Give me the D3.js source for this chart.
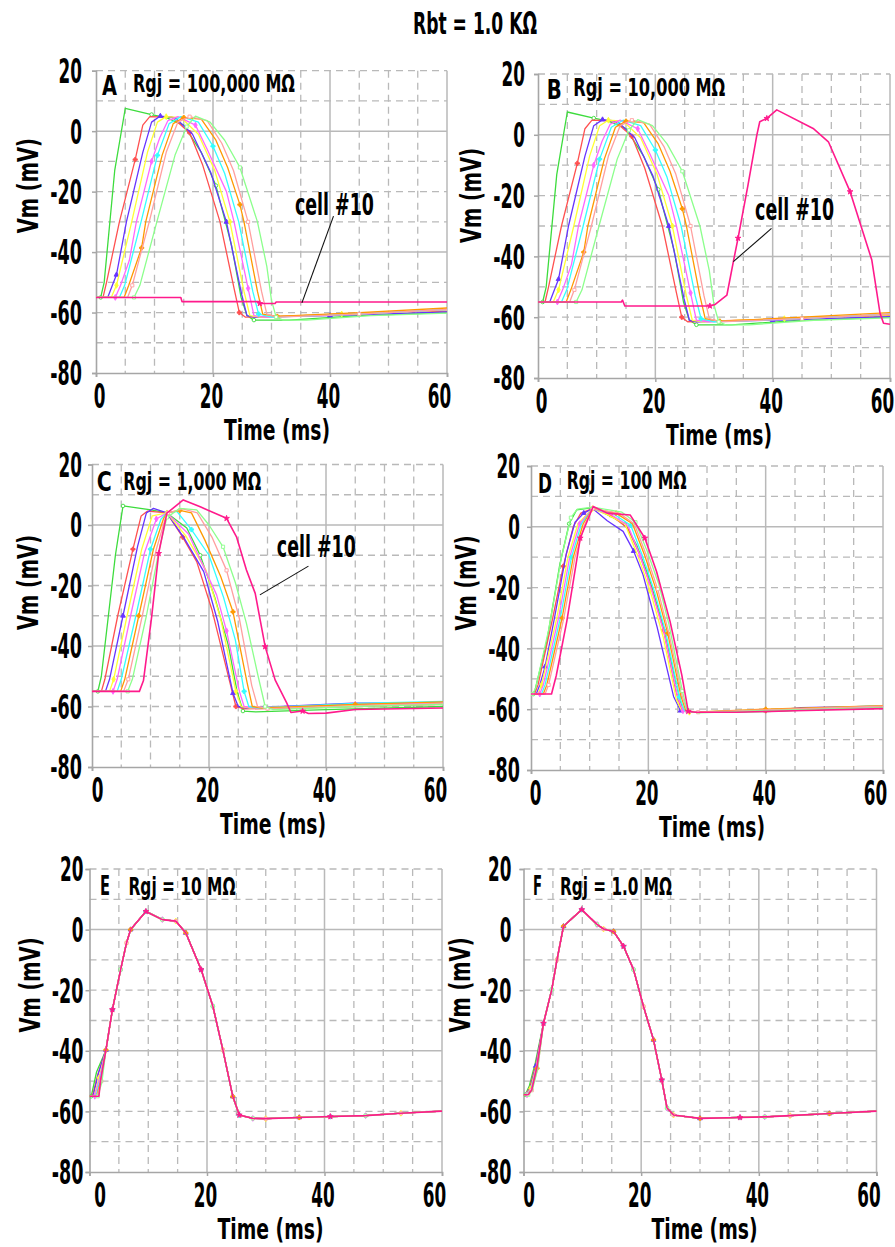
<!DOCTYPE html>
<html><head><meta charset="utf-8">
<script src="https://cdn.jsdelivr.net/npm/d3@7"></script>
<style>body{margin:0;background:#fff}svg{display:block}</style>
</head><body><svg id="chart" width="895" height="1247"></svg>
<script>
// ---------------- DATA ----------------
const chartTitle = "Rbt = 1.0 K\u03A9";
const panelLetters = ["A","B","C","D","E","F"];
const rgjLabels = ["Rgj = 100,000 M\u03A9","Rgj = 10,000 M\u03A9","Rgj = 1,000 M\u03A9","Rgj = 100 M\u03A9","Rgj = 10 M\u03A9","Rgj = 1.0 M\u03A9"];
const xTicks = [0,20,40,60];
const yTicks = [20,0,-20,-40,-60,-80];
const xLabel = "Time (ms)";
const yLabel = "Vm (mV)";
const cellNames = ["cell #1","cell #2","cell #3","cell #4","cell #5","cell #6","cell #7","cell #8","cell #9","cell #10"];

// Panel A, cells 1-9 (t ms, Vm mV)
const A_cells = [
 [[0,-55],[0.8,-55],[1.4,-50],[3.2,-13],[5,7.5],[9.5,5.5],[12,4.5],[15,2],[18,-7],[20.5,-18],[23.2,-38],[24.8,-55],[25.8,-61],[27,-62.5],[33,-62.5],[45,-61],[60,-60]],
 [[0,-55],[1.2,-55],[1.8,-50],[4,-30],[6.7,-9.4],[8,2],[9.2,4.8],[13,4.6],[16,-0.5],[18.2,-11],[21.2,-30],[23.6,-52],[24.5,-60],[25.5,-61.5],[35,-61],[48,-60],[60,-59.5]],
 [[0,-55],[2,-55],[2.8,-51],[3.5,-47.5],[5.2,-30],[8,-7],[9.5,3],[11,5],[13.5,4.5],[16.5,-1],[19.6,-13.6],[22.3,-30],[24.9,-54],[25.8,-61],[27,-61.5],[40,-61],[60,-59.8]],
 [[0,-55],[2.6,-55],[3.5,-51],[6.1,-30],[8.8,-7],[10.5,3],[12,4.8],[14.5,4.5],[17.5,-1],[20.3,-13],[22.9,-30],[25.3,-53],[26.3,-61],[28,-61.5],[42,-60.5],[60,-59.2]],
 [[0,-55],[3.3,-55],[4.2,-51],[5.7,-42.7],[6.9,-30],[9.5,-10],[10.9,-2.2],[12.3,3.5],[14,4.8],[17,2],[19,-6],[22.3,-20],[23.6,-30],[26,-52],[27,-61],[29,-61.5],[45,-60.5],[60,-59]],
 [[0,-55],[4,-55],[4.9,-51],[7.7,-30],[10.5,-8],[12.5,2.5],[14.5,4.8],[17.5,3],[20,-5],[22,-14],[24.4,-30],[26.8,-53],[27.8,-60.5],[30,-61.5],[45,-60.5],[60,-59]],
 [[0,-55],[4.8,-55],[5.6,-51],[7.8,-38.6],[8.5,-30],[11.3,-8],[13.2,2.5],[15,4.5],[18,4],[20.5,-3],[22.5,-12],[24.6,-24.3],[25.3,-30],[27.6,-53],[28.5,-60.5],[31,-61.3],[45,-60],[60,-58.5]],
 [[0,-55],[5.4,-55],[6.2,-51],[9.1,-30],[12,-7],[14,3],[16,4.8],[19,3.5],[21.5,-4],[23.5,-13],[26,-30],[28.3,-53],[29.2,-60.5],[31,-61.5],[45,-60.5],[60,-59]],
 [[0,-55],[6.5,-55],[7.5,-51],[10.4,-30],[13.5,-8],[15.5,1.5],[17,5],[19.5,3],[22,-3],[24.6,-12],[27.6,-30],[29.2,-44.7],[30,-56],[30.8,-61.5],[32,-62.5],[36,-62.5],[47,-61],[60,-60.2]]
];
const A_cell10 = [[0,-55],[14.5,-55],[14.7,-56.4],[27.8,-56.4],[28,-57],[30.6,-57],[30.8,-56.5],[60,-56.5]];

// Panel B: cells 1-9 read the same as panel A
const B_cells = A_cells;
const B_cell10 = [[0,-55],[14.2,-55],[14.4,-54.4],[14.8,-56.3],[29.3,-56.3],[30.2,-55.8],[32.2,-52.7],[33.3,-41.7],[34.1,-34],[35.8,-16.5],[37.3,-0.1],[37.8,4.3],[39,5.4],[40.7,8.2],[46.9,2.1],[49.5,-2.3],[53.2,-18.7],[56.9,-41.2],[58.3,-58.7],[58.9,-62],[60,-62.3]];

// Panel C
const C_cells = [
 [[0,-55],[1,-55],[1.6,-50],[2.8,-30],[4,-10],[5.3,6.3],[10.1,5],[12.8,4],[16.2,-1],[18.5,-10],[21,-24],[23.3,-39.7],[24.8,-55],[25.8,-61.5],[28,-61.8],[40,-61],[60,-60]],
 [[0,-55],[1.6,-55],[2.2,-51],[4.4,-30],[7,-8],[8.4,3],[9.5,4.6],[12.8,4],[15.5,-4],[17.9,-12.1],[20.5,-28],[23.6,-52.3],[24.6,-60],[26,-60.8],[40,-60.3],[60,-59.3]],
 [[0,-55],[2.3,-55],[3,-51],[5.3,-30],[7.8,-7],[9.3,4],[10.5,5.5],[12.8,4],[15.8,-4.5],[19.1,-15.4],[21.5,-32],[24.1,-55.6],[25,-60],[26.5,-60.5],[44.6,-58.9],[60,-58.8]],
 [[0,-55],[3,-55],[3.7,-51],[6,-30],[8.5,-8],[10.3,3],[12.8,4],[16,-3.5],[19.5,-15],[22,-31],[24.6,-55],[25.5,-60],[27,-60.5],[45,-59.5],[60,-58.8]],
 [[0,-55],[3.6,-55],[4.3,-51],[6.6,-30],[9,-9],[11,2],[12.8,4],[16.5,-3],[21.3,-23.1],[23,-35],[25.2,-55],[26,-60],[28,-60.5],[45,-59.3],[60,-58.8]],
 [[0,-55],[4.3,-55],[5,-51],[7.5,-30],[10,-8],[11.8,2],[12.8,4],[14.5,4.5],[17,-1.5],[20,-10],[22.5,-24],[24.5,-38],[26,-55],[26.8,-60],[28.5,-60.5],[45,-59],[60,-58.3]],
 [[0,-55],[4.9,-55],[5.6,-51],[8,-30],[10.5,-8],[12.2,2],[12.8,4],[15,4.8],[17,4],[19.3,-5],[22,-17],[24.1,-28.7],[26.5,-52],[27.4,-60],[29,-60.5],[45,-59.3],[60,-58.5]],
 [[0,-55],[5.4,-55],[6.2,-51],[8.6,-30],[11,-8],[12.5,2],[13,4],[15.5,5.3],[18,4],[20.5,-4],[23,-15],[25.2,-31],[27.3,-53],[28.3,-60],[30,-60.7],[45,-59.8],[60,-59]],
 [[0,-55],[6.1,-55],[6.9,-51],[9.3,-30],[11.5,-8],[12.8,2.5],[15,5.5],[17.9,5],[20,0],[22.4,-7.2],[24.5,-19],[26.4,-32.5],[28.4,-50],[29.6,-60],[31,-61],[45,-60],[60,-59.3]]
];
const C_cell10 = [[0,-55],[8.1,-55],[8.8,-51.4],[10.2,-30.3],[11.4,-9.4],[12.8,3.9],[15.6,8.3],[18.5,6],[23,2.2],[24.7,-3.9],[26.4,-14.9],[27.9,-22.6],[29.6,-40.2],[31.3,-51.2],[33.3,-58.9],[34,-62],[36,-61.5],[37,-62.3],[40,-62.2],[45,-61],[60,-60.5]];

// Panel D
const D_cells = [
 [[0,-55],[0.4,-55],[0.7,-53.6],[2.7,-37.7],[4.9,-12.5],[6.5,1],[7.8,5.6],[10.5,6.3],[13,4],[16,1],[18,-6],[20,-16],[22.3,-31],[24.8,-52],[25.8,-60],[27,-61],[40,-60.8],[60,-59.3]],
 [[0,-55],[0.6,-55],[1.2,-52],[3.7,-30],[5.5,-13],[7.2,0],[8.5,4.5],[10.5,6],[13.5,4],[16.5,-0.5],[18.5,-9],[20.5,-20],[22.6,-34],[24.7,-54],[25.6,-60],[27,-61],[40,-60.5],[60,-59.2]],
 [[0,-55],[0.9,-55],[1.5,-52],[2.4,-46],[4,-30],[6,-9],[7.5,1.5],[9,4.5],[10.5,6],[13,2],[15.7,-1.5],[17.5,-8],[19.1,-15.8],[21.5,-33],[24.3,-55.8],[25.5,-60.5],[27,-61],[40,-60.6],[46,-59.5],[60,-59]],
 [[0,-55],[1.2,-55],[1.8,-52],[4.4,-30],[6.3,-10],[8,1],[10.5,6],[13,4],[16,1],[18.3,-10],[20.3,-21],[22.5,-36],[24.8,-57],[25.7,-60.5],[27,-61],[40,-60.3],[60,-59]],
 [[0,-55],[1.5,-55],[2.1,-52],[4.7,-30],[6.6,-10],[8.3,1],[10.5,6],[13.5,4.2],[16.5,0.5],[18.6,-9.5],[20.6,-21],[22.7,-35],[25,-56],[25.9,-60.5],[27.5,-61],[40,-60.4],[60,-59.2]],
 [[0,-55],[1.8,-55],[2.4,-52],[5,-30],[6.9,-10],[8.6,1],[10.5,6],[14,4.3],[17,0.5],[19,-9.5],[21,-21],[23,-35],[25.3,-56],[26.2,-60.5],[28,-61],[40,-60.2],[60,-58.8]],
 [[0,-55],[2.1,-55],[2.7,-52],[5.3,-30],[7.2,-10],[8.9,1],[10.5,6],[14.5,4.5],[17.3,1],[19.3,-9],[21.3,-20.5],[23.3,-35],[25.6,-56],[26.4,-60.5],[28,-61],[40,-60],[60,-58.8]],
 [[0,-55],[2.4,-55],[3,-52],[5.6,-30],[7.5,-10],[9.2,1],[10.5,6],[15,4.5],[17.6,1],[19.6,-9],[21.6,-20.5],[23.5,-35],[25.8,-56],[26.6,-60.5],[28.5,-61],[40,-60.2],[60,-59]],
 [[0,-55],[0.3,-55],[0.8,-53],[3,-34],[5.2,-10],[6.8,3],[7.9,5.8],[10.5,6.5],[15.5,4.8],[17.8,1.5],[19.8,-8],[21.8,-19],[23.5,-32],[25.8,-54],[26.6,-60.5],[28.5,-61.2],[40,-60.5],[60,-59.5]]
];
const D_cell10 = [[0,-55],[3.5,-55],[4.3,-49],[6.1,-31.1],[8.4,-3.7],[10.6,6.7],[13,4.5],[16.9,3.9],[19.4,-3.7],[21.4,-14.7],[23.7,-31.1],[25.7,-48.7],[26.8,-60.7],[28,-61],[35,-61],[45,-60.5],[60,-59.8]];

// Panel E: cells differ only in the foot of the upstroke
const E_heads = [
 [[0,-55],[0.3,-55],[1.2,-47]],
 [[0,-55],[0.5,-55],[1.4,-48]],
 [[0,-55],[0.6,-55],[1.5,-47.5]],
 [[0,-55],[0.8,-55],[1.6,-49]],
 [[0,-55],[0.9,-55],[1.7,-49]],
 [[0,-55],[1.1,-55],[1.8,-49.5]],
 [[0,-55],[1.2,-55],[1.9,-50]],
 [[0,-55],[1.3,-55],[2.0,-50]],
 [[0,-55],[1.4,-55],[2.1,-50.5]],
 [[0,-55],[1.6,-55],[1.9,-49.6]]
];
const E_tail = [[2.8,-39.7],[3.9,-26.4],[5.3,-13.2],[6.3,-4.4],[7,0],[9.6,6],[12.4,3.3],[14.7,2.8],[16.4,-1.1],[19,-13.2],[21,-25.3],[22.7,-39.7],[24.4,-55.1],[25.5,-61.2],[27.8,-62.3],[30,-62.4],[35.7,-62],[41,-61.7],[47,-61.4],[53,-60.6],[60,-59.9]];

// Panel F
const F_heads = [
 [[0,-54.5],[0.3,-54.5],[1.0,-51.5],[2.0,-44]],
 [[0,-54.5],[0.4,-54.5],[1.1,-52],[2.1,-44.5]],
 [[0,-54.5],[0.5,-54.5],[1.2,-52],[2.1,-45]],
 [[0,-54.5],[0.5,-54.5],[1.2,-52.5],[2.2,-45]],
 [[0,-54.5],[0.6,-54.5],[1.3,-52.5],[2.2,-45.5]],
 [[0,-54.5],[0.6,-54.5],[1.3,-52.8],[2.3,-45.5]],
 [[0,-54.5],[0.7,-54.5],[1.4,-52.8],[2.3,-45.8]],
 [[0,-54.5],[0.7,-54.5],[1.4,-53],[2.4,-46]],
 [[0,-54.5],[0.8,-54.5],[1.5,-53],[2.4,-46]],
 [[0,-54.5],[0.8,-54.5],[1.4,-52.9],[2.3,-45.2]]
];
const F_tail = [[3.4,-30.9],[4.8,-19.8],[5.7,-9.9],[6.8,1.1],[9.9,6.6],[12.5,1.7],[13.6,0.2],[15.3,-0.6],[17,-5.5],[18.7,-13.2],[20.4,-25.4],[22.1,-36.4],[23.5,-49.6],[24.4,-58.9],[25.5,-61.2],[30,-62.3],[36.8,-62],[41,-61.8],[45.3,-61.4],[52,-60.7],[60,-59.9]];

// "cell #10" annotations (panel index, text anchor t/v, pointer from/to in t/v)
const annotations = [
 {panel:0, t:34, v:-27.6, line:[[40.6,-28.1],[35.2,-56.8]]},
 {panel:1, t:37, v:-28, line:[[39.8,-30.8],[33.3,-41.7]]},
 {panel:2, t:31.6, v:-10.5, line:[[37,-13.6],[28.7,-23.1]]}
];

// ---------------- STYLE / LAYOUT ----------------
const cellColors = ["#3ddc3d","#ff5050","#6633ff","#ffff33","#ff66ff","#33ffff","#ff9900","#ff9f9f","#8cff8c","#ff1a8c"];
const cellSymbols = [d3.symbolCircle,d3.symbolCross,d3.symbolTriangle,d3.symbolDiamond,d3.symbolDiamond,d3.symbolCross,d3.symbolCross,d3.symbolSquare,d3.symbolSquare,d3.symbolStar];
const cellSymbolFilled = [false,true,true,true,true,true,true,false,false,true];

const layout = [
 {x0:96,   x1:447,   yT:70.7,  yB:373,  yGap:14, zdx:3,  vmX:-67,   vmY:115,   L:{dx:6,   dy:24.5,w:15}, R:{dx:37,  dy:21.5,w:162}},
 {x0:538,  x1:890,   yT:74,    yB:378,  yGap:13, zdx:3,  vmX:-66.5, vmY:121.5, L:{dx:8.7, dy:24.5,w:15}, R:{dx:35.3,dy:21.5,w:152}},
 {x0:92,   x1:443,   yT:464.5, yB:767,  yGap:10, zdx:5,  vmX:-63,   vmY:118,   L:{dx:4.7, dy:26.5,w:15}, R:{dx:31.3,dy:25,  w:138}},
 {x0:531,  x1:883,   yT:466,   yB:770,  yGap:11, zdx:4,  vmX:-64,   vmY:117,   L:{dx:7,   dy:26.5,w:14}, R:{dx:35.7,dy:22.5,w:120}},
 {x0:89.5, x1:442,   yT:869,   yB:1172, yGap:6,  zdx:10, vmX:-58.5, vmY:116,   L:{dx:10.5,dy:26,  w:10}, R:{dx:39,  dy:26,  w:107}},
 {x0:523.5,x1:876.5, yT:869,   yB:1172, yGap:12, zdx:5,  vmX:-62.5, vmY:116,   L:{dx:9.5, dy:26,  w:9},  R:{dx:36.5,dy:26,  w:112}}
];

const panelTraces = [
 A_cells.concat([A_cell10]),
 B_cells.concat([B_cell10]),
 C_cells.concat([C_cell10]),
 D_cells.concat([D_cell10]),
 E_heads.map(h => h.concat(E_tail)),
 F_heads.map(h => h.concat(F_tail))
];

const FONT = "'Liberation Sans Narrow','DejaVu Sans Condensed','Liberation Sans',sans-serif";
const GRID = "#b9b9b9";
const AXIS = "#a6a6a6";

const svg = d3.select("#chart");
svg.append("rect").attr("width",895).attr("height",1247).attr("fill","#fff");

function fit(sel, w){ sel.attr("textLength", w).attr("lengthAdjust","spacingAndGlyphs"); }
function numW(s){ let w=0; for(const ch of s){ w += (ch==="-") ? 8.3 : 11.7; } return w; }

svg.append("text").attr("x",475).attr("y",34).attr("text-anchor","middle")
  .attr("font-family",FONT).attr("font-weight","bold").attr("font-size",31)
  .text(chartTitle).call(fit,124);

layout.forEach((P, pi) => {
  const x = d3.scaleLinear().domain([0,60]).range([P.x0,P.x1]);
  const y = d3.scaleLinear().domain([-80,20]).range([P.yB,P.yT]);
  const g = svg.append("g");

  // grid
  const grid = g.append("g");
  d3.range(5,61,5).forEach(t => {
    const solid = t % 20 === 0;
    grid.append("line").attr("x1",x(t)).attr("x2",x(t)).attr("y1",y(20)).attr("y2",y(-80))
      .attr("stroke",GRID).attr("stroke-width",solid?1.5:1.3)
      .attr("stroke-dasharray",solid?null:"7,5");
  });
  d3.range(-70,21,10).forEach(v => {
    const solid = v % 40 === 0;
    grid.append("line").attr("x1",x(0)).attr("x2",x(60)).attr("y1",y(v)).attr("y2",y(v))
      .attr("stroke",GRID).attr("stroke-width",solid?1.5:1.3)
      .attr("stroke-dasharray",solid?null:"7,5");
  });

  // axes
  const ax = g.append("g").attr("transform",`translate(0,${P.yB})`)
    .call(d3.axisBottom(x).tickValues(xTicks).tickSize(4).tickPadding(8).tickFormat(d => String(d)));
  const ay = g.append("g").attr("transform",`translate(${P.x0},0)`)
    .call(d3.axisLeft(y).tickValues(yTicks).tickSize(4).tickPadding(P.yGap-4).tickFormat(d => String(d)));
  [ax,ay].forEach(a => {
    a.select(".domain").attr("stroke",AXIS).attr("stroke-width",1.6);
    a.selectAll(".tick line").attr("stroke",AXIS).attr("stroke-width",1.5);
    a.selectAll(".tick text").attr("fill","#000").attr("font-family",FONT)
      .attr("font-weight","bold").attr("font-size",33)
      .each(function(){ const s=d3.select(this); s.call(fit, numW(s.text())); });
  });
  ay.selectAll(".tick text").attr("dy","0.36em");
  ax.selectAll(".tick text").attr("dx", d => d===0 ? P.zdx : (d===60 ? -8 : -2));

  // traces
  const clipId = "clip"+pi;
  svg.append("clipPath").attr("id",clipId).append("rect")
    .attr("x",P.x0).attr("y",P.yT-2).attr("width",P.x1-P.x0+1).attr("height",P.yB-P.yT+2);
  const lineGen = d3.line().x(d => x(d[0])).y(d => y(d[1]));
  const tg = g.append("g").attr("clip-path",`url(#${clipId})`);
  panelTraces[pi].forEach((tr, ci) => {
    tg.append("path").attr("d",lineGen(tr)).attr("fill","none")
      .attr("stroke",cellColors[ci]).attr("stroke-width", ci===9 ? 1.6 : 1.3)
      .attr("stroke-linejoin","round");
    const sym = d3.symbol().type(cellSymbols[ci]).size(10);
    tr.forEach((p, i) => {
      if (i===0 || i===tr.length-1) return;
      if ((i + ci) % 4 !== 1) return;
      tg.append("path").attr("d",sym()).attr("transform",`translate(${x(p[0])},${y(p[1])})`)
        .attr("fill", cellSymbolFilled[ci] ? cellColors[ci] : "#fff")
        .attr("stroke",cellColors[ci]).attr("stroke-width",0.9);
    });
  });

  // labels
  g.append("text").attr("x",P.x0+P.L.dx).attr("y",P.yT+P.L.dy)
    .attr("font-family",FONT).attr("font-weight","bold").attr("font-size",27)
    .text(panelLetters[pi]).call(fit,P.L.w);
  g.append("text").attr("x",P.x0+P.R.dx).attr("y",P.yT+P.R.dy)
    .attr("font-family",FONT).attr("font-weight","bold").attr("font-size",25)
    .text(rgjLabels[pi]).call(fit,P.R.w);
  g.append("text").attr("x",P.x0+181).attr("y",P.yB+67).attr("text-anchor","middle")
    .attr("font-family",FONT).attr("font-weight","bold").attr("font-size",29)
    .text(xLabel).call(fit,106);
  g.append("text").attr("transform",`translate(${P.x0+P.vmX+9},${P.yT+P.vmY}) rotate(-90)`)
    .attr("text-anchor","middle")
    .attr("font-family",FONT).attr("font-weight","bold").attr("font-size",29)
    .text(yLabel).call(fit,95);

  annotations.filter(a => a.panel===pi).forEach(a => {
    g.append("line").attr("x1",x(a.line[0][0])).attr("y1",y(a.line[0][1]))
      .attr("x2",x(a.line[1][0])).attr("y2",y(a.line[1][1]))
      .attr("stroke","#111").attr("stroke-width",1.1);
    g.append("text").attr("x",x(a.t)).attr("y",y(a.v))
      .attr("font-family",FONT).attr("font-weight","bold").attr("font-size",30)
      .text(cellNames[9]).call(fit,79);
  });
});
</script></body></html>
